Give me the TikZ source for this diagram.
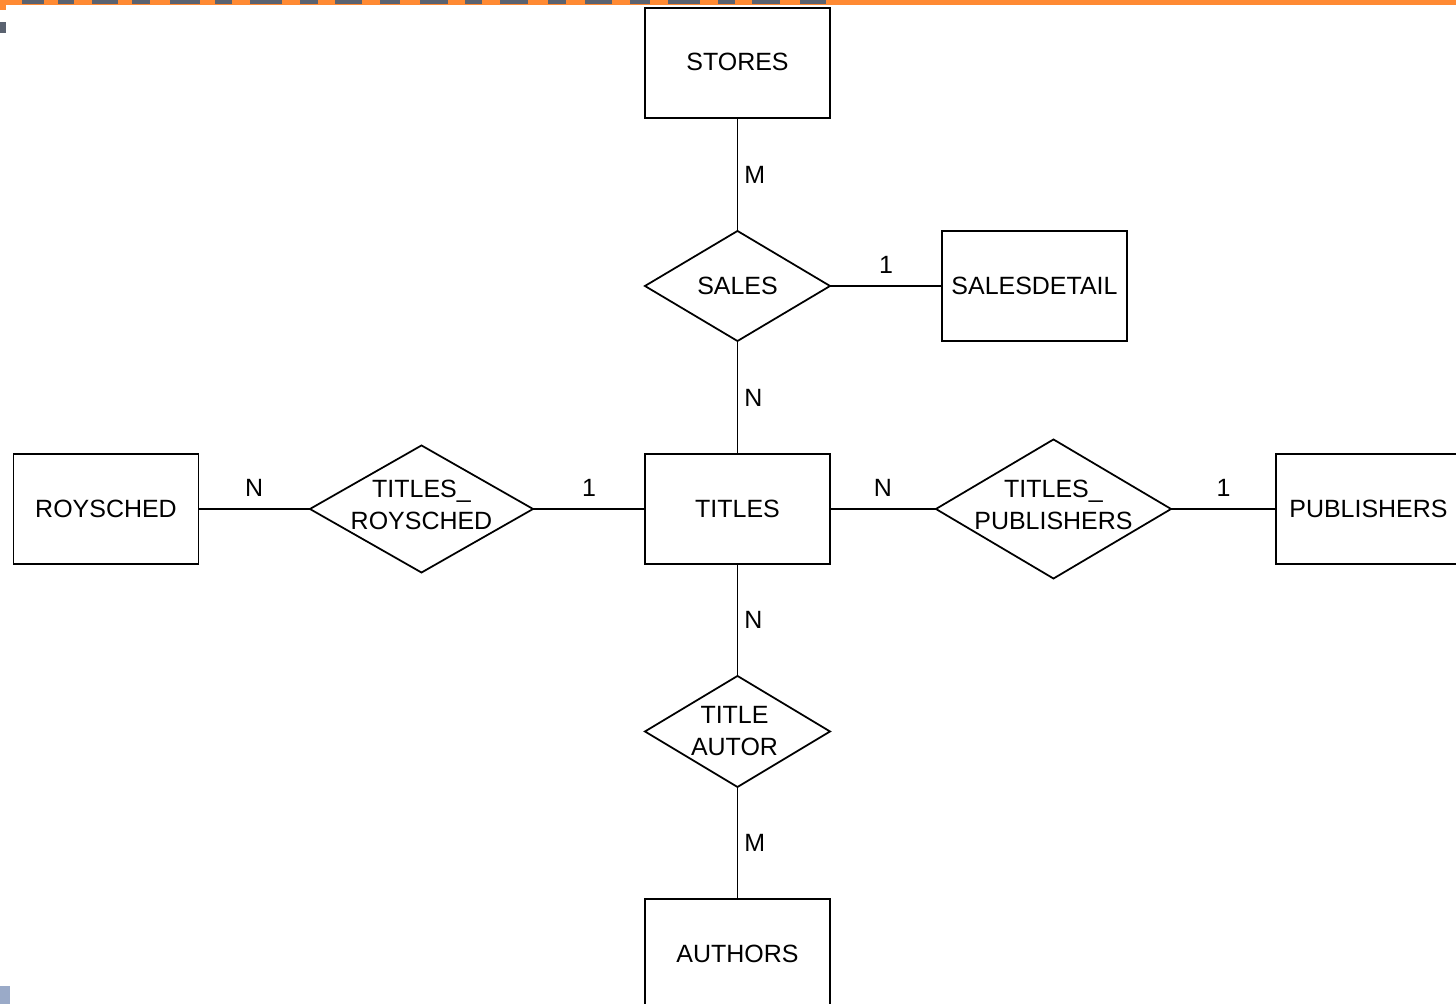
\documentclass[tikz,border=0pt]{standalone}
\usepackage{fontspec}
\setmainfont{Liberation Sans}
\usetikzlibrary{shapes.geometric}
\definecolor{bandorange}{HTML}{FF8A33}
\definecolor{bandgray}{HTML}{5A6270}
\definecolor{cornerblue}{HTML}{9AAAC8}
\tikzset{
  ent/.style={draw, rectangle, line width=0.5pt, minimum width=1.85cm, minimum height=1.1cm, inner sep=0pt, outer sep=0pt},
  rel/.style={draw, diamond, line width=0.5pt, inner sep=0pt, outer sep=0pt},
  conn/.style={line width=0.5pt},
  labup/.style={anchor=center, inner sep=0pt, yshift=0.21cm},
  labright/.style={anchor=west, inner sep=0pt, xshift=0.06cm},
  dtext/.style={align=center, inner sep=0pt}
}
\begin{document}
\begin{tikzpicture}[x=0.01cm, y=-0.01cm, font=\fontsize{7.1pt}{9.1pt}\selectfont]
\useasboundingbox (0,0) rectangle (1456,1004);
\clip (0,0) rectangle (1456,1004);
\fill[white] (0,0) rectangle (1456,1004);
% decoration strip of the slide
\fill[bandorange] (0,0) rectangle (1456,5);
\fill[bandorange] (0,5) rectangle (6,10);
\foreach \a/\b in {22/44, 58/74, 92/118, 132/150, 170/200, 215/232, 250/282, 300/318, 335/362, 380/400, 420/448, 465/482, 500/528, 548/566, 585/612, 630/650, 668/700, 718/735, 752/780, 800/826}
  \fill[bandgray] (\a,0) rectangle (\b,4);
\fill[bandgray] (0,22) rectangle (6,33);
\fill[cornerblue] (0,986) rectangle (10,1004);

% entities
\node[ent] (stores) at (737.5,63) {\raisebox{0.02cm}{STORES}};
\node[ent] (salesdetail) at (1034.5,286) {SALESDETAIL};
\node[ent] (titles) at (737.5,509) {TITLES};
\node[ent] (roysched) at (106,509) {ROYSCHED};
\node[ent] (publishers) at (1368.5,509) {PUBLISHERS};
\node[ent] (authors) at (737.5,954) {AUTHORS};

% relationships
\node[rel, minimum width=1.85cm, minimum height=1.1cm] (sales) at (737.5,286) {};
\node[dtext] at (sales.center) {SALES};
\node[rel, minimum width=2.23cm, minimum height=1.27cm] (tr) at (421.5,509) {};
\node[dtext] at ([yshift=0.04cm]tr.center) {TITLES\_\\ROYSCHED};
\node[rel, minimum width=2.35cm, minimum height=1.39cm] (tp) at (1053.5,509) {};
\node[dtext] at ([yshift=0.04cm]tp.center) {TITLES\_\\PUBLISHERS};
\node[rel, minimum width=1.85cm, minimum height=1.11cm] (ta) at (737.5,731.5) {};
\node[dtext] at ([xshift=-0.03cm]ta.center) {TITLE\\AUTOR};

% connectors
\draw[conn] (stores.south) -- node[labright] {M} (sales.north);
\draw[conn] (sales.east) -- node[labup] {1} (salesdetail.west);
\draw[conn] (sales.south) -- node[labright] {N} (titles.north);
\draw[conn] (roysched.east) -- node[labup] {N} (tr.west);
\draw[conn] (tr.east) -- node[labup] {1} (titles.west);
\draw[conn] (titles.east) -- node[labup] {N} (tp.west);
\draw[conn] (tp.east) -- node[labup] {1} (publishers.west);
\draw[conn] (titles.south) -- node[labright] {N} (ta.north);
\draw[conn] (ta.south) -- node[labright] {M} (authors.north);
\end{tikzpicture}
\end{document}
